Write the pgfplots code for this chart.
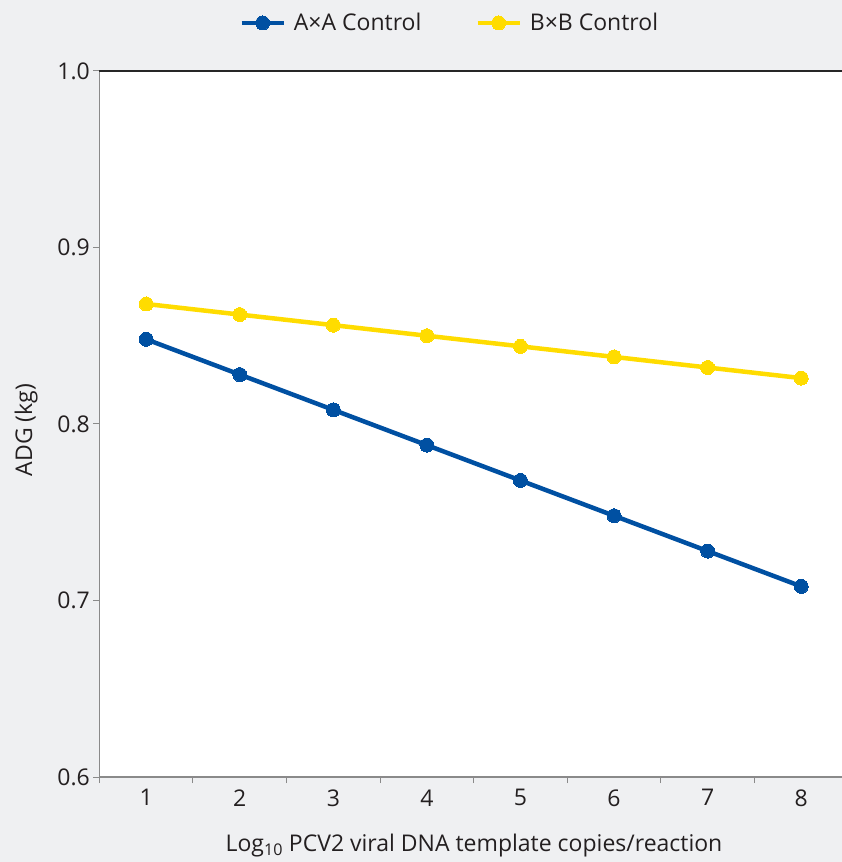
\documentclass[border=0pt]{standalone}
\usepackage{fontspec}
\setmainfont{Open Sans}
\usepackage{pgfplots}
\pgfplotsset{compat=1.18}
\definecolor{bg}{HTML}{EFF0F2}
\definecolor{aa}{HTML}{0050A2}
\definecolor{bb}{HTML}{FFDC00}
\definecolor{axc}{HTML}{8A8A8A}
\definecolor{txt}{HTML}{231F20}
\begin{document}
\begin{tikzpicture}[x=1pt,y=1pt]
\useasboundingbox (-99.4,-85) rectangle (742.6,777);
\fill[bg] (-99.4,-85) rectangle (742.6,777);
\clip (-99.4,-85) rectangle (742.6,777);
\begin{axis}[
  at={(0,0)}, anchor=south west,
  scale only axis, width=748.6pt, height=706pt,
  xmin=0.5, xmax=8.5, ymin=0.6, ymax=1.0,
  axis lines*=left,
  axis line style={draw=axc, line width=1.2pt, -},
  axis background/.style={fill=white},
  tick align=outside,
  xtick={1,2,3,4,5,6,7,8},
  major x tick style={draw=none},
  minor xtick={0.5,1.5,2.5,3.5,4.5,5.5,6.5,7.5,8.5},
  ytick={0.6,0.7,0.8,0.9,1.0},
  tick style={axc, line width=1pt},
  major tick length=6pt, minor tick length=6pt,
  /pgf/number format/assume math mode=true,
  yticklabel style={/pgf/number format/.cd, fixed, fixed zerofill, precision=1},
  tick label style={font=\fontsize{23}{27}\selectfont, text=txt},
  xticklabel style={yshift=-3pt},
  xlabel={Log\textsubscript{10} PCV2 viral DNA template copies/reaction},
  ylabel={ADG (kg)},
  xlabel style={at={(axis description cs:0.5004,-0.106)}, anchor=base, font=\fontsize{23}{27}\selectfont, text=txt},
  ylabel style={at={(axis description cs:-0.090,0.4915)}, anchor=base, font=\fontsize{23}{27}\selectfont, text=txt},
  legend columns=2,
  legend style={at={(axis description cs:0.468,1.068)}, anchor=center, draw=none, fill=none,
    font=\fontsize{23}{27}\selectfont, text=txt,
    /tikz/every even column/.append style={column sep=52pt}},
  legend image code/.code={\draw[mark repeat=2,mark phase=2] plot coordinates {(0pt,0pt) (21pt,0pt) (42pt,0pt)};\path (48pt,0pt);},
  clip=false,
]
\addplot[aa, line width=4.5pt, mark=*, mark size=7pt, mark options={solid, fill=aa, draw=aa, line width=0pt}]
  coordinates {(1,0.848) (2,0.828) (3,0.808) (4,0.788) (5,0.768) (6,0.748) (7,0.728) (8,0.708)};
\addlegendentry{A×A Control}
\addplot[bb, line width=4.5pt, mark=*, mark size=7pt, mark options={solid, fill=bb, draw=bb, line width=0pt}]
  coordinates {(1,0.868) (2,0.862) (3,0.856) (4,0.850) (5,0.844) (6,0.838) (7,0.832) (8,0.826)};
\addlegendentry{B×B Control}
\draw[black!85, line width=1.2pt] (rel axis cs:0,1) -- (rel axis cs:1,1);
\end{axis}
\end{tikzpicture}
\end{document}
